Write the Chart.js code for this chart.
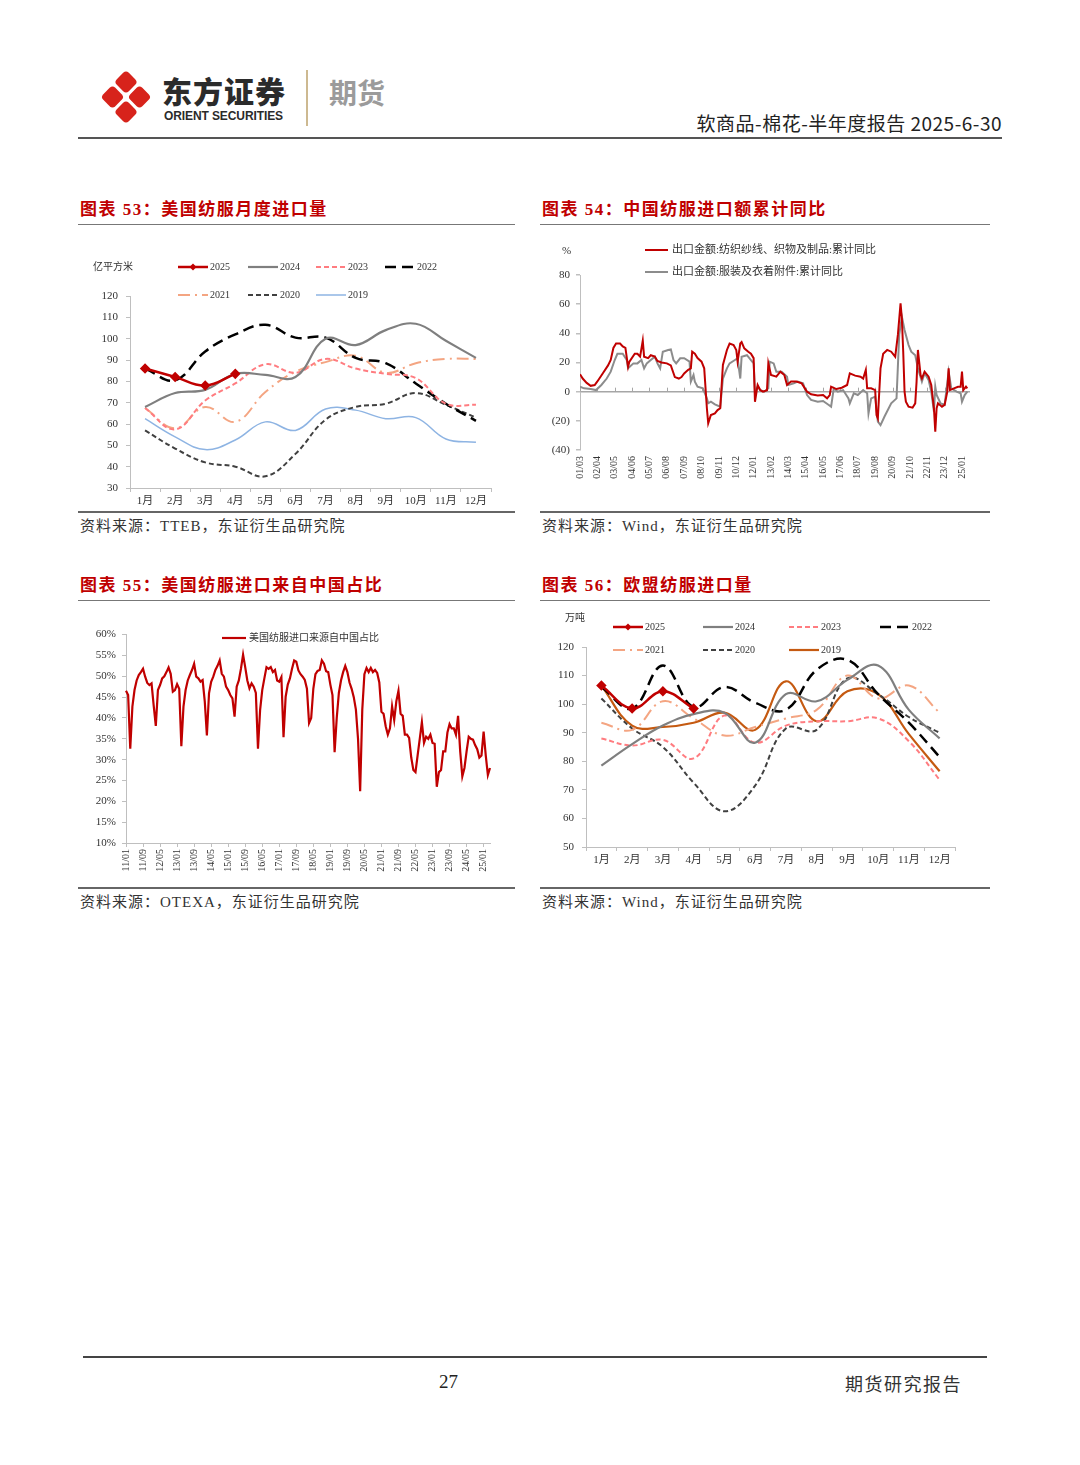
<!DOCTYPE html>
<html>
<head>
<meta charset="utf-8">
<script src="https://cdn.jsdelivr.net/npm/chart.js@4.4.1/dist/chart.umd.min.js"></script>
<style>
  body { margin: 0; width: 1080px; height: 1465px; background: #fff; position: relative; overflow: hidden;
         font-family: "Liberation Serif", "Noto Sans CJK SC", serif; color: #222; }
  .abs { position: absolute; white-space: nowrap; }
  .title { position: absolute; color: #c00000; font-weight: bold; font-size: 17px; letter-spacing: 1.5px; line-height: 20px; white-space: nowrap; }
  .src { position: absolute; font-size: 15px; color: #333; letter-spacing: 1px; line-height: 18px; white-space: nowrap; }
  .hl { position: absolute; height: 0; border-top: 1px solid #777; }
  .hl2 { position: absolute; height: 0; border-top: 2px solid #666; }
  .box { position: absolute; }
</style>
</head>
<body>

<!-- header -->
<svg class="abs" style="left:98px;top:68px" width="56" height="58" viewBox="0 0 56 58">
  <g fill="#d7231b">
    <rect x="-8.5" y="-8.5" width="17" height="17" rx="4" transform="translate(28,14) rotate(45)"/>
    <rect x="-8.5" y="-8.5" width="17" height="17" rx="4" transform="translate(14.5,29) rotate(45)"/>
    <rect x="-8.5" y="-8.5" width="17" height="17" rx="4" transform="translate(41.5,29) rotate(45)"/>
    <rect x="-8.5" y="-8.5" width="17" height="17" rx="4" transform="translate(28,44) rotate(45)"/>
  </g>
</svg>
<div class="abs" style="left:162px;top:72px;font-family:'Noto Sans CJK SC';font-weight:900;font-size:30px;letter-spacing:1px;color:#2b2b2b;line-height:36px">东方证券</div>
<div class="abs" style="left:164px;top:109px;font-family:'Liberation Sans';font-weight:bold;font-size:12px;letter-spacing:-0.1px;color:#2b2b2b">ORIENT SECURITIES</div>
<div class="abs" style="left:306px;top:70px;width:2px;height:56px;background:#cdb991"></div>
<div class="abs" style="left:329px;top:74px;font-family:'Noto Sans CJK SC';font-weight:bold;font-size:28px;color:#9b9b9b;line-height:36px">期货</div>
<div class="abs" style="right:78px;top:110px;font-family:'Noto Sans CJK SC';font-size:19px;letter-spacing:0.5px;color:#222;line-height:26px">软商品-棉花-半年度报告 2025-6-30</div>
<div class="abs" style="left:78px;top:137px;width:924px;height:2px;background:#555"></div>

<!-- chart 53 -->
<div class="title" style="left:80px;top:200px">图表 53：美国纺服月度进口量</div>
<div class="hl" style="left:78px;top:224px;width:437px"></div>
<div class="box" style="left:78px;top:255px;width:437px;height:255px"><canvas id="c53"></canvas></div>
<div class="hl2" style="left:78px;top:511px;width:437px"></div>
<div class="src" style="left:80px;top:517px">资料来源：TTEB，东证衍生品研究院</div>

<!-- chart 54 -->
<div class="title" style="left:542px;top:200px">图表 54：中国纺服进口额累计同比</div>
<div class="hl" style="left:540px;top:224px;width:450px"></div>
<div class="box" style="left:540px;top:240px;width:450px;height:255px"><canvas id="c54"></canvas></div>
<div class="hl2" style="left:540px;top:511px;width:450px"></div>
<div class="src" style="left:542px;top:517px">资料来源：Wind，东证衍生品研究院</div>

<!-- chart 55 -->
<div class="title" style="left:80px;top:576px">图表 55：美国纺服进口来自中国占比</div>
<div class="hl" style="left:78px;top:600px;width:437px"></div>
<div class="box" style="left:78px;top:622px;width:437px;height:258px"><canvas id="c55"></canvas></div>
<div class="hl2" style="left:78px;top:887px;width:437px"></div>
<div class="src" style="left:80px;top:893px">资料来源：OTEXA，东证衍生品研究院</div>

<!-- chart 56 -->
<div class="title" style="left:542px;top:576px">图表 56：欧盟纺服进口量</div>
<div class="hl" style="left:540px;top:600px;width:450px"></div>
<div class="box" style="left:540px;top:608px;width:450px;height:270px"><canvas id="c56"></canvas></div>
<div class="hl2" style="left:540px;top:887px;width:450px"></div>
<div class="src" style="left:542px;top:893px">资料来源：Wind，东证衍生品研究院</div>

<!-- footer -->
<div class="abs" style="left:83px;top:1356px;width:904px;height:2px;background:#444"></div>
<div class="abs" style="left:439px;top:1371px;font-size:19px;color:#222">27</div>
<div class="abs" style="right:118px;top:1370px;font-size:18px;letter-spacing:1.5px;color:#333">期货研究报告</div>

<script>
// ---------- data ----------
const monthLabels = ['1月','2月','3月','4月','5月','6月','7月','8月','9月','10月','11月','12月'];
const yearNames = ['2025','2024','2023','2022','2021','2020','2019'];

// 图表53 美国纺服月度进口量 (亿平方米)
const us2025 = [86, 82, 78, 83.5];
const us2024 = [68, 74.5, 76, 83.5, 83, 82, 100, 97, 104, 107, 99, 91];
const us2023 = [67.5, 57.5, 71, 79, 88, 84, 90.5, 86, 83.5, 81.5, 69.5, 69];
const us2022 = [86, 80.5, 94, 102, 106.5, 100.5, 100.5, 91, 88.5, 79, 69.5, 61.5];
const us2021 = [67.5, 58, 68, 61, 75, 84.5, 89, 92, 84, 88.5, 90.5, 90.5];
const us2020 = [57, 48.5, 42, 40, 35.5, 46, 62, 68, 69.5, 74.5, 69, 63];
const us2019 = [62.5, 54, 48, 52.5, 61, 57, 67, 66.5, 62.5, 63, 53, 51.5];

// 图表56 欧盟纺服进口量 (万吨)
const eu2025 = [106.5, 98.5, 104.5, 98.5];
const eu2024 = [78.5, 86, 92.5, 96.5, 97, 86.5, 103.5, 101, 108.5, 113.5, 98, 88];
const eu2023 = [88, 85.5, 87.5, 81, 96, 86.5, 92.5, 94, 94, 95, 87, 73.5];
const eu2022 = [106, 98.5, 113.5, 99, 106, 100.5, 98, 112, 115.5, 103.5, 93.5, 81.5];
const eu2021 = [93.5, 91, 101, 95, 89, 92, 95, 98, 110, 102, 106.5, 97];
const eu2020 = [102, 91.5, 85, 72.5, 62.5, 71.5, 91.5, 91, 109, 103.5, 95.5, 90];
const eu2019 = [106.5, 92.5, 92, 93.5, 97, 91, 108, 94, 104.5, 103.5, 89.5, 76.5];

// 图表54 中国纺服出口额累计同比 (%), x = months counted from 2001/01
const textileMonth = [2,4,7,10,13,15,19,23,25,27,29,32,34,36,38,39,43,45,47,49,50,53,55,58,60,63,67,70,73,76,78,80,83,85,86,88,90,93,95,97,98,100,103,105,107,109,112,114,117,119,120,122,123,125,128,130,132,133,135,137,139,142,143,145,149,152,155,157,160,164,168,172,175,180,184,187,189,190,194,198,202,204,208,212,214,216,217,220,223,224,225,227,229,232,235,238,240,242,243,244,245,246,248,251,253,254,255,257,258,260,263,265,267,268,269,270,273,275,277,278,279,282,285,287,288,289,291,292];
const textileYoY = [12,9,6,4,4.5,7,12.5,18,21.7,30,33,33,31,30,17,20.6,26,26,24,35,24,23,25,24,21,20,19.4,18,10,9,10,12.5,15,16,27.4,26,23,20.6,16,-11.4,-21.7,-16,-14.9,-12.6,-11.4,18.3,28.6,33,32,28.6,20.6,33,34,29.7,27.4,26,23,-6.9,4.6,1,0,1,19.4,11.4,10.3,13.7,11.4,4.6,6.9,6.9,5.7,0,-1.8,-2.7,-2.3,-4.6,-2.3,3.4,1.8,2.7,4.6,12.6,11,10.3,9,14.9,2.3,2.3,1,-16,-18.3,16,26,28.6,27.4,24,38.9,60.6,50,27.4,0,-6.9,-10.3,-11,-8,6.9,28.6,11.4,9,13.7,10.3,4.6,-11.4,-27.4,-11.4,-8,-10.3,-9,0,16,1.1,2.3,3.4,3.4,13.7,1.1,3.4,2.3];
const apparelMonth = [2,5,10,14,18,22,25,28,30,34,37,38,42,45,48,50,52,55,58,60,62,64,68,70,72,74,77,80,84,85,87,88,90,94,97,98,100,103,107,109,112,114,118,120,122,123,127,130,132,133,135,137,140,143,144,147,149,153,157,158,162,165,169,172,175,180,184,188,190,192,195,199,203,204,207,210,214,217,218,220,223,225,227,230,235,239,241,243,245,248,250,253,255,258,260,263,265,267,268,269,272,275,278,280,284,287,288,290,292];
const apparelYoY = [3.4,2.3,1.8,1.1,4.6,9,13.7,21.7,26,26,21.7,16,19.4,19.4,21.7,16,19.4,21.7,24,19.4,16,27.4,28.6,29,21.7,19.4,22.9,22.9,20.6,6.9,11.4,6.9,3.4,2.3,-4.6,-8,-6.9,-8.7,-10.3,9,16,19.4,21.7,22.9,9,24,25,21.7,19.4,0,3.4,1.1,0,2.3,20.6,19.4,13.7,13.7,10.3,4.6,5.7,6.9,5.7,-2.3,-5.7,-6.9,-6.4,-9,-10.3,2.3,0,1.1,-4.6,-8,-1.1,-2.3,1.1,-1.1,-14.9,-4.6,-3.4,-20.6,-22.9,-17,-8,-4.6,38.9,51.4,42.3,32,27.4,25,16,6.9,12.6,8,0,-13.7,3.4,-2.3,-8,-9,13.7,2.3,0,-1.1,-6.9,-2.3,0];
const exportTickLabels = ['01/03','02/04','03/05','04/06','05/07','06/08','07/09','08/10','09/11','10/12','12/01','13/02','14/03','15/04','16/05','17/06','18/07','19/08','20/09','21/10','22/11','23/12','25/01'];
const textileName = '出口金额:纺织纱线、织物及制品:累计同比';
const apparelName = '出口金额:服装及衣着附件:累计同比';

// 图表55 美国纺服进口来源自中国占比 (%), monthly from 2011/01
const chinaShare = [
  46.5, 45.5, 32.6, 42.7, 46.7, 49.0, 50.3, 51.0, 51.8, 49.9, 48.4, 47.9,
  48.3, 43.0, 38.1, 46.7, 47.9, 49.5, 50.0, 51.0, 52.1, 50.6, 46.3, 46.7,
  48.1, 47.0, 33.2, 42.7, 46.7, 49.0, 50.3, 51.5, 53.0, 49.9, 49.5, 48.7,
  49.1, 44.0, 35.8, 45.9, 48.7, 49.9, 51.5, 52.5, 53.8, 50.6, 49.9, 47.5,
  46.7, 45.5, 44.7, 40.3, 47.5, 49.0, 51.8, 55.2, 52.2, 49.0, 47.1, 48.3,
  47.5, 46.0, 32.6, 41.9, 46.7, 49.5, 52.2, 51.8, 52.2, 51.0, 51.5, 49.0,
  48.7, 49.8, 35.4, 45.1, 48.0, 49.5, 51.8, 53.8, 53.5, 51.4, 50.5, 49.9,
  49.1, 47.0, 38.8, 40.0, 47.0, 50.5, 51.3, 51.5, 53.8, 53.0, 51.2, 51.0,
  48.0, 45.5, 31.8, 40.0, 46.0, 49.0, 51.0, 52.5, 51.0, 48.5, 47.0, 45.0,
  42.0, 35.0, 22.4, 42.0, 50.5, 52.0, 51.0, 52.0, 51.0, 51.5, 50.8, 48.5,
  41.5, 41.0, 38.0, 36.0, 37.5, 42.8, 39.5, 44.0, 46.5, 41.0, 40.5, 36.0,
  36.0, 35.2, 30.5, 27.5, 27.0, 31.0, 35.0, 39.0, 34.0, 35.5, 35.0, 36.0,
  34.0, 33.8, 23.5, 27.0, 27.5, 32.0, 32.0, 36.5, 38.5, 37.5, 37.5, 36.0,
  40.5, 32.0, 26.0, 28.0, 32.0, 35.5, 35.0, 34.8, 33.5, 32.5, 30.5, 31.0,
  36.7, 31.0, 26.3, 28.0
];
const shareTickLabels = ['11/01','11/09','12/05','13/01','13/09','14/05','15/01','15/09','16/05','17/01','17/09','18/05','19/01','19/09','20/05','21/01','21/09','22/05','23/01','23/09','24/05','25/01'];
const shareName = '美国纺服进口来源自中国占比';

// ---------- helpers ----------
const SERIF = "'Liberation Serif', 'Noto Sans CJK SC', serif";
Chart.defaults.font.family = SERIF;
Chart.defaults.color = '#333';
Chart.defaults.animation = false;

const pad2 = n => String(n).padStart(2, '0');
const exportIdx = lbl => { const [y, m] = lbl.split('/').map(Number); return (y - 1) * 12 + (m - 1); };
const exportLabel = idx => pad2(Math.floor(idx / 12) + 1) + '/' + pad2(idx % 12 + 1);
const shareMonths = chinaShare.map((_, i) => pad2(11 + Math.floor(i / 12)) + '/' + pad2(i % 12 + 1));

const axisGrey = '#bfbfbf';

// legend drawn at fixed spots inside the canvas
const boxLegend = {
  id: 'boxLegend',
  afterDraw(chart, args, opts) {
    if (!opts || !opts.items) return;
    const ctx = chart.ctx;
    ctx.save();
    ctx.font = opts.font;
    ctx.textBaseline = 'middle';
    ctx.fillStyle = '#333';
    if (opts.unit) ctx.fillText(opts.unit, opts.unitX, opts.unitY);
    opts.items.forEach(it => {
      const ds = chart.data.datasets[it.ds];
      ctx.strokeStyle = ds.borderColor;
      ctx.lineWidth = ds.borderWidth;
      ctx.setLineDash(ds.borderDash || []);
      ctx.beginPath();
      ctx.moveTo(it.x, it.y);
      ctx.lineTo(it.x + opts.lineLen, it.y);
      ctx.stroke();
      ctx.setLineDash([]);
      if (ds.pointRadius) {
        const cx = it.x + opts.lineLen / 2, r = ds.pointRadius;
        ctx.fillStyle = ds.borderColor;
        ctx.beginPath();
        ctx.moveTo(cx, it.y - r); ctx.lineTo(cx + r, it.y); ctx.lineTo(cx, it.y + r); ctx.lineTo(cx - r, it.y);
        ctx.closePath(); ctx.fill();
      }
      ctx.fillStyle = '#333';
      ctx.fillText(ds.label, it.x + opts.lineLen + (opts.gap || 2), it.y);
    });
    ctx.restore();
  }
};

// small ticks on the zero line
const zeroTicks = {
  id: 'zeroTicks',
  beforeDatasetsDraw(chart, args, opts) {
    if (!opts || !opts.on) return;
    const xs = chart.scales.x, y0 = chart.scales.y.getPixelForValue(0);
    const ctx = chart.ctx;
    ctx.save();
    ctx.strokeStyle = '#a6a6a6';
    ctx.lineWidth = 1;
    xs.ticks.forEach(t => {
      const px = Math.round(xs.getPixelForValue(t.value)) + 0.5;
      ctx.beginPath(); ctx.moveTo(px, y0 - 4); ctx.lineTo(px, y0); ctx.stroke();
    });
    ctx.restore();
  }
};
Chart.register(boxLegend, zeroTicks);

function yearDatasets(series, styles) {
  return series.map((d, i) => ({
    label: yearNames[i],
    data: d,
    borderColor: styles[i].color,
    backgroundColor: styles[i].color,
    borderWidth: styles[i].width,
    borderDash: styles[i].dash,
    pointRadius: i === 0 ? 3.5 : 0,
    pointStyle: 'rectRot',
    tension: 0.4,
    fill: false
  }));
}

function yearChart(id, series, styles, lay, legend) {
  new Chart(document.getElementById(id), {
    type: 'line',
    data: { labels: monthLabels, datasets: yearDatasets(series, styles) },
    options: {
      responsive: true,
      maintainAspectRatio: false,
      layout: { padding: { top: lay.top, right: lay.right, left: 0, bottom: 0 } },
      plugins: { legend: { display: false }, tooltip: { enabled: false }, boxLegend: legend },
      scales: {
        x: {
          offset: true,
          grid: { offset: true, drawOnChartArea: false, tickLength: 4, tickColor: axisGrey },
          border: { color: axisGrey },
          ticks: { font: { size: 11 }, color: '#333', padding: 3, maxRotation: 0, autoSkip: false },
          afterFit(s) { s.height = lay.xh; }
        },
        y: {
          min: lay.min, max: lay.max,
          grid: { drawOnChartArea: false, tickLength: 4, tickColor: axisGrey },
          border: { color: axisGrey },
          ticks: { stepSize: 10, font: { size: 11 }, color: '#333', padding: 8 },
          afterFit(s) { s.width = lay.yw; }
        }
      }
    }
  });
}

// ---------- chart 53 ----------
const styles53 = [
  { color: '#c00000', width: 2.5, dash: [] },
  { color: '#7f7f7f', width: 2.2, dash: [] },
  { color: '#ff7c80', width: 2, dash: [5, 3] },
  { color: '#000000', width: 2.5, dash: [11, 6] },
  { color: '#f4a582', width: 2, dash: [12, 5, 2, 5] },
  { color: '#404040', width: 2, dash: [5, 3] },
  { color: '#8eb4e3', width: 1.5, dash: [] }
];
yearChart('c53', [us2025, us2024, us2023, us2022, us2021, us2020, us2019], styles53,
  { top: 41, right: 24, xh: 22, yw: 52, min: 30, max: 120 },
  { font: '10px ' + SERIF, unit: '亿平方米', unitX: 15, unitY: 12, lineLen: 30, gap: 2,
    items: [ { ds: 0, x: 100, y: 12 }, { ds: 1, x: 170, y: 12 }, { ds: 2, x: 238, y: 12 }, { ds: 3, x: 307, y: 12 },
             { ds: 4, x: 100, y: 40 }, { ds: 5, x: 170, y: 40 }, { ds: 6, x: 238, y: 40 } ] });

// ---------- chart 56 ----------
const styles56 = styles53.slice(0, 6).concat([{ color: '#c55a11', width: 2.2, dash: [] }]);
yearChart('c56', [eu2025, eu2024, eu2023, eu2022, eu2021, eu2020, eu2019], styles56,
  { top: 39, right: 35, xh: 31, yw: 46, min: 50, max: 120 },
  { font: '10px ' + SERIF, unit: '万吨', unitX: 25, unitY: 10, lineLen: 30, gap: 2,
    items: [ { ds: 0, x: 73, y: 19 }, { ds: 1, x: 163, y: 19 }, { ds: 2, x: 249, y: 19 }, { ds: 3, x: 340, y: 19 },
             { ds: 4, x: 73, y: 42 }, { ds: 5, x: 163, y: 42 }, { ds: 6, x: 249, y: 42 } ] });

// ---------- chart 54 ----------
new Chart(document.getElementById('c54'), {
  type: 'line',
  data: {
    datasets: [
      { label: textileName, data: textileMonth.map((m, i) => ({ x: m, y: textileYoY[i] })),
        borderColor: '#c00000', borderWidth: 2, pointRadius: 0, tension: 0 },
      { label: apparelName, data: apparelMonth.map((m, i) => ({ x: m, y: apparelYoY[i] })),
        borderColor: '#8c8c8c', borderWidth: 2, pointRadius: 0, tension: 0 }
    ]
  },
  options: {
    responsive: true,
    maintainAspectRatio: false,
    layout: { padding: { top: 35, right: 20, left: 0, bottom: 0 } },
    plugins: {
      legend: { display: false }, tooltip: { enabled: false },
      zeroTicks: { on: true },
      boxLegend: { font: '11px ' + SERIF, unit: '%', unitX: 22, unitY: 11, lineLen: 23, gap: 4,
        items: [ { ds: 0, x: 105, y: 10 }, { ds: 1, x: 105, y: 32 } ] }
    },
    scales: {
      x: {
        type: 'linear', min: 2, max: 294,
        afterBuildTicks(s) { s.ticks = exportTickLabels.map(l => ({ value: exportIdx(l) })); },
        ticks: { autoSkip: false, minRotation: 90, maxRotation: 90, font: { size: 10 }, color: '#333', padding: 0,
                 callback: v => exportLabel(v) },
        grid: { display: false, tickLength: 6 },
        border: { display: false },
        afterFit(s) { s.height = 45; }
      },
      y: {
        min: -40, max: 80,
        ticks: { stepSize: 20, font: { size: 11 }, color: '#333', padding: 6,
                 callback: v => v < 0 ? '(' + (-v) + ')' : v },
        grid: { drawOnChartArea: true, tickLength: 4, tickColor: axisGrey, lineWidth: 1.5,
                color: c => (c.tick && c.tick.value === 0) ? '#a6a6a6' : 'rgba(0,0,0,0)' },
        border: { color: axisGrey },
        afterFit(s) { s.width = 40; }
      }
    }
  }
});

// ---------- chart 55 ----------
new Chart(document.getElementById('c55'), {
  type: 'line',
  data: {
    labels: shareMonths,
    datasets: [
      { label: shareName, data: chinaShare, borderColor: '#c00000', borderWidth: 2.2, pointRadius: 0, tension: 0 }
    ]
  },
  options: {
    responsive: true,
    maintainAspectRatio: false,
    layout: { padding: { top: 10, right: 25, left: 0, bottom: 0 } },
    plugins: {
      legend: { display: false }, tooltip: { enabled: false },
      boxLegend: { font: '10px ' + SERIF, lineLen: 24, gap: 3, items: [ { ds: 0, x: 144, y: 16 } ] }
    },
    scales: {
      x: {
        afterBuildTicks(s) { s.ticks = shareTickLabels.map(l => ({ value: shareMonths.indexOf(l) })); },
        ticks: { autoSkip: false, minRotation: 90, maxRotation: 90, font: { size: 10 }, color: '#333', padding: 2 },
        grid: { drawOnChartArea: false, tickLength: 4, tickColor: axisGrey },
        border: { color: axisGrey },
        afterFit(s) { s.height = 37; }
      },
      y: {
        min: 10, max: 60,
        ticks: { stepSize: 5, font: { size: 11 }, color: '#333', padding: 6, callback: v => v + '%' },
        grid: { drawOnChartArea: false, tickLength: 4, tickColor: axisGrey },
        border: { color: axisGrey },
        afterFit(s) { s.width = 48; }
      }
    }
  }
});
</script>
</body>
</html>
